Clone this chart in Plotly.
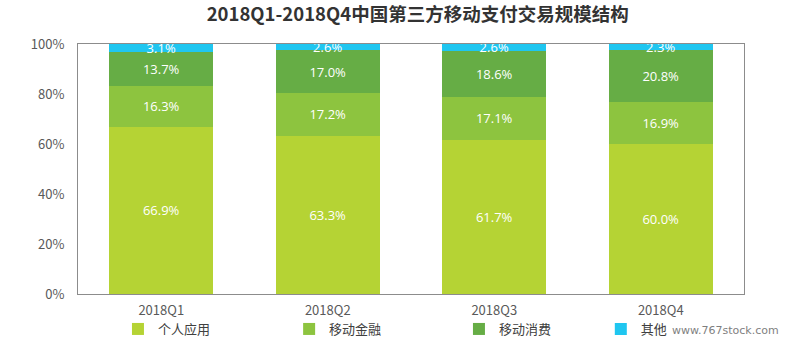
import plotly.graph_objects as go

categories = ["2018Q1", "2018Q2", "2018Q3", "2018Q4"]
series_names = ["个人应用", "移动金融", "移动消费", "其他"]
personal = [66.9, 63.3, 61.7, 60.0]
finance = [16.3, 17.2, 17.1, 16.9]
consume = [13.7, 17.0, 18.6, 20.8]
other = [3.1, 2.6, 2.6, 2.3]
colors = ["#b5d334", "#8dc43f", "#66ad45", "#1fc6f0"]
legend_ids = ["legend", "legend2", "legend3", "legend4"]
legend_x = [0.060, 0.317, 0.572, 0.785]

fig = go.Figure()
for name, vals, col, lg in zip(series_names, [personal, finance, consume, other], colors, legend_ids):
    fig.add_trace(go.Bar(
        x=categories, y=vals, name=name, marker=dict(color=col, line=dict(width=0)),
        text=[f"{v:.1f}%" for v in vals], textposition="inside",
        insidetextanchor="middle", textangle=0,
        textfont=dict(color="white", size=13, family="Open Sans"),
        width=0.625, legend=lg,
    ))

legend_common = dict(orientation="h", y=-0.14, yanchor="middle", xanchor="left",
                     itemwidth=30, font=dict(size=13, color="#404040"),
                     itemclick=False, bgcolor="rgba(0,0,0,0)")
fig.update_layout(
    barmode="stack",
    width=791, height=343,
    margin=dict(l=78, r=47, t=44, b=49, autoexpand=False),
    paper_bgcolor="white", plot_bgcolor="white",
    title=dict(text="<b>2018Q1-2018Q4中国第三方移动支付交易规模结构</b>",
               x=0.528, xanchor="center", y=0.958, yanchor="middle",
               font=dict(size=18.5, color="#333333", family="Noto Sans CJK SC")),
    uniformtext=dict(mode="show", minsize=13),
    font=dict(family="Noto Sans CJK SC", color="#595959", size=13),
    legend=dict(x=legend_x[0], **legend_common),
    legend2=dict(x=legend_x[1], **legend_common),
    legend3=dict(x=legend_x[2], **legend_common),
    legend4=dict(x=legend_x[3], **legend_common),
    showlegend=True,
    annotations=[dict(text="www.767stock.com", xref="paper", yref="paper",
                      x=1.055, y=-0.145, xanchor="right", yanchor="middle", showarrow=False,
                      font=dict(size=11, color="#7f7f7f", family="DejaVu Sans"))],
)
fig.update_xaxes(showline=True, linecolor="#8c8c8c", linewidth=1, mirror=True,
                 ticks="", ticklabelstandoff=4, tickfont=dict(size=13, color="#595959"))
fig.update_yaxes(range=[0, 100], dtick=20, ticksuffix="%", showgrid=False,
                 showline=True, linecolor="#8c8c8c", linewidth=1, mirror=True,
                 ticks="", ticklabelstandoff=10, zeroline=False,
                 tickfont=dict(size=13, color="#595959"))

fig.write_html("out.html")
